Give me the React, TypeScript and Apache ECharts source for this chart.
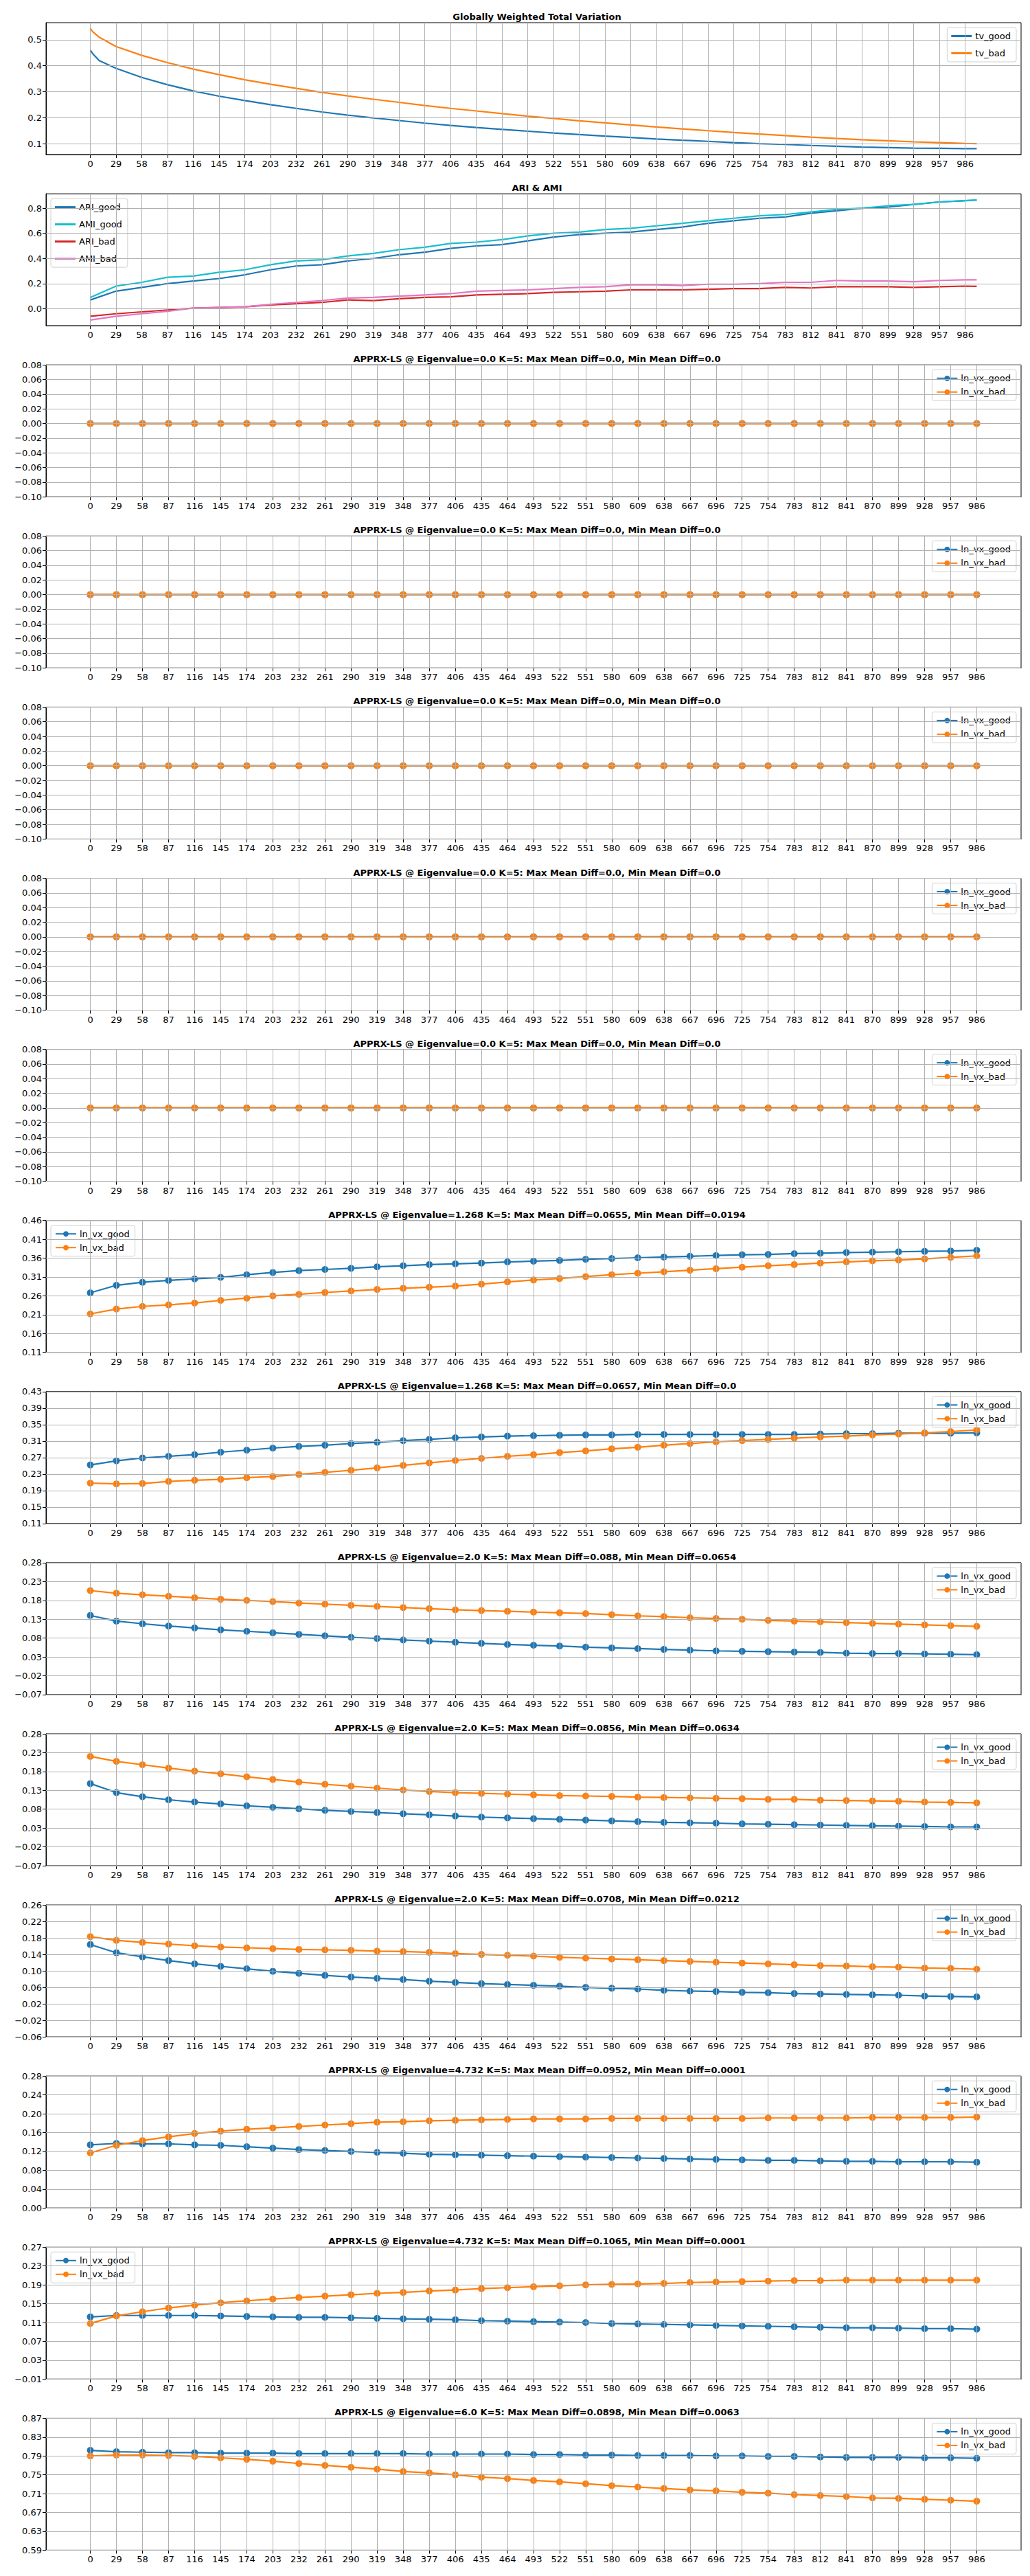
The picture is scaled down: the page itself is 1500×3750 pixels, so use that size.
import React, { useEffect, useRef } from "react";
import * as echarts from "echarts";

// x tick labels shared by every panel
const xTicks = [0, 29, 58, 87, 116, 145, 174, 203, 232, 261, 290, 319, 348, 377, 406, 435, 464, 493, 522, 551, 580, 609, 638, 667, 696, 725, 754, 783, 812, 841, 870, 899, 928, 957, 986];

// Globally Weighted Total Variation (sampled along the curve)
const tvX = [0, 3, 10, 29, 58, 87, 116, 145, 174, 203, 232, 261, 290, 319, 348, 377, 406, 435, 464, 493, 522, 551, 580, 609, 638, 667, 696, 725, 754, 783, 812, 841, 870, 899, 928, 957, 986, 999];
const tvGood = [0.46, 0.445, 0.42, 0.39, 0.355, 0.327, 0.303, 0.283, 0.266, 0.25, 0.236, 0.222, 0.21, 0.199, 0.189, 0.179, 0.17, 0.162, 0.155, 0.148, 0.141, 0.135, 0.129, 0.124, 0.118, 0.113, 0.109, 0.104, 0.1, 0.097, 0.093, 0.09, 0.087, 0.085, 0.083, 0.082, 0.081, 0.081];
const tvBad = [0.543, 0.53, 0.51, 0.474, 0.44, 0.412, 0.387, 0.366, 0.346, 0.329, 0.313, 0.298, 0.284, 0.271, 0.259, 0.247, 0.236, 0.226, 0.216, 0.206, 0.197, 0.188, 0.18, 0.172, 0.164, 0.157, 0.15, 0.143, 0.137, 0.131, 0.125, 0.12, 0.115, 0.111, 0.107, 0.104, 0.101, 0.1];

// ARI & AMI
const ariX = [0, 29, 58, 87, 116, 145, 174, 203, 232, 261, 290, 319, 348, 377, 406, 435, 464, 493, 522, 551, 580, 609, 638, 667, 696, 725, 754, 783, 812, 841, 870, 899, 928, 957, 986, 999];
const ariGood = [0.07, 0.14, 0.17, 0.2, 0.22, 0.24, 0.27, 0.31, 0.34, 0.35, 0.38, 0.4, 0.43, 0.45, 0.48, 0.5, 0.51, 0.54, 0.57, 0.59, 0.6, 0.61, 0.63, 0.65, 0.68, 0.7, 0.72, 0.73, 0.76, 0.78, 0.8, 0.81, 0.83, 0.85, 0.86, 0.865];
const amiGood = [0.09, 0.18, 0.21, 0.25, 0.26, 0.29, 0.31, 0.35, 0.38, 0.39, 0.42, 0.44, 0.47, 0.49, 0.52, 0.53, 0.55, 0.58, 0.6, 0.61, 0.63, 0.64, 0.66, 0.68, 0.7, 0.72, 0.74, 0.75, 0.77, 0.79, 0.8, 0.82, 0.83, 0.85, 0.86, 0.865];
const ariBad = [-0.06, -0.04, -0.025, -0.01, 0.005, 0.01, 0.015, 0.03, 0.04, 0.05, 0.07, 0.065, 0.08, 0.09, 0.095, 0.11, 0.115, 0.12, 0.13, 0.135, 0.14, 0.15, 0.15, 0.15, 0.155, 0.16, 0.16, 0.17, 0.165, 0.175, 0.175, 0.175, 0.17, 0.175, 0.18, 0.178];
const amiBad = [-0.09, -0.06, -0.04, -0.02, 0.005, 0.01, 0.015, 0.035, 0.05, 0.065, 0.085, 0.09, 0.1, 0.11, 0.12, 0.14, 0.145, 0.15, 0.16, 0.17, 0.175, 0.19, 0.19, 0.185, 0.195, 0.195, 0.2, 0.21, 0.21, 0.225, 0.22, 0.22, 0.215, 0.225, 0.23, 0.23];

// APPRX-LS panels
const zeros = [0, 0, 0, 0, 0, 0, 0, 0, 0, 0, 0, 0, 0, 0, 0, 0, 0, 0, 0, 0, 0, 0, 0, 0, 0, 0, 0, 0, 0, 0, 0, 0, 0, 0, 0];
const e1268aGood = [0.268, 0.288, 0.296, 0.301, 0.305, 0.309, 0.316, 0.322, 0.327, 0.33, 0.333, 0.337, 0.34, 0.343, 0.345, 0.347, 0.35, 0.352, 0.354, 0.357, 0.359, 0.361, 0.363, 0.365, 0.367, 0.369, 0.37, 0.372, 0.373, 0.375, 0.376, 0.377, 0.378, 0.379, 0.381];
const e1268aBad = [0.212, 0.225, 0.232, 0.236, 0.241, 0.248, 0.254, 0.26, 0.264, 0.269, 0.273, 0.277, 0.28, 0.283, 0.286, 0.291, 0.297, 0.302, 0.306, 0.311, 0.316, 0.32, 0.324, 0.328, 0.332, 0.336, 0.34, 0.343, 0.347, 0.35, 0.353, 0.355, 0.358, 0.362, 0.366];
const e1268bGood = [0.252, 0.262, 0.269, 0.273, 0.277, 0.283, 0.288, 0.293, 0.297, 0.3, 0.304, 0.307, 0.311, 0.314, 0.318, 0.32, 0.322, 0.323, 0.324, 0.325, 0.325, 0.326, 0.326, 0.326, 0.326, 0.326, 0.326, 0.326, 0.327, 0.328, 0.328, 0.329, 0.329, 0.329, 0.33];
const e1268bBad = [0.208, 0.206, 0.207, 0.212, 0.215, 0.217, 0.221, 0.224, 0.229, 0.234, 0.239, 0.245, 0.251, 0.257, 0.263, 0.268, 0.273, 0.277, 0.282, 0.286, 0.291, 0.295, 0.3, 0.304, 0.308, 0.311, 0.314, 0.317, 0.32, 0.322, 0.325, 0.327, 0.33, 0.333, 0.337];
const e2aGood = [0.14, 0.125, 0.118, 0.112, 0.107, 0.102, 0.098, 0.094, 0.09, 0.086, 0.082, 0.079, 0.075, 0.072, 0.069, 0.066, 0.063, 0.061, 0.059, 0.056, 0.054, 0.052, 0.05, 0.048, 0.046, 0.045, 0.044, 0.043, 0.042, 0.04, 0.039, 0.039, 0.038, 0.037, 0.036];
const e2aBad = [0.206, 0.199, 0.195, 0.191, 0.187, 0.183, 0.18, 0.177, 0.173, 0.17, 0.167, 0.164, 0.161, 0.158, 0.155, 0.153, 0.151, 0.149, 0.147, 0.145, 0.142, 0.139, 0.137, 0.134, 0.132, 0.13, 0.127, 0.125, 0.123, 0.121, 0.119, 0.117, 0.115, 0.113, 0.111];
const e2bGood = [0.148, 0.124, 0.113, 0.105, 0.099, 0.094, 0.089, 0.085, 0.081, 0.077, 0.074, 0.071, 0.068, 0.065, 0.062, 0.059, 0.057, 0.055, 0.053, 0.051, 0.049, 0.047, 0.045, 0.044, 0.043, 0.041, 0.04, 0.039, 0.038, 0.037, 0.036, 0.035, 0.034, 0.033, 0.033];
const e2bBad = [0.22, 0.207, 0.198, 0.189, 0.181, 0.174, 0.166, 0.159, 0.152, 0.146, 0.141, 0.136, 0.131, 0.127, 0.124, 0.122, 0.12, 0.118, 0.116, 0.115, 0.114, 0.112, 0.111, 0.11, 0.109, 0.108, 0.106, 0.106, 0.104, 0.103, 0.102, 0.101, 0.099, 0.098, 0.097];
const e2cGood = [0.164, 0.144, 0.134, 0.125, 0.117, 0.111, 0.105, 0.099, 0.094, 0.089, 0.085, 0.082, 0.079, 0.075, 0.072, 0.069, 0.067, 0.065, 0.063, 0.06, 0.058, 0.056, 0.053, 0.051, 0.05, 0.048, 0.047, 0.045, 0.044, 0.043, 0.042, 0.041, 0.039, 0.038, 0.037];
const e2cBad = [0.183, 0.174, 0.169, 0.165, 0.161, 0.158, 0.156, 0.154, 0.152, 0.151, 0.15, 0.148, 0.147, 0.145, 0.142, 0.14, 0.138, 0.136, 0.133, 0.131, 0.129, 0.127, 0.125, 0.123, 0.121, 0.119, 0.117, 0.115, 0.113, 0.112, 0.11, 0.109, 0.107, 0.106, 0.104];
const e4732aGood = [0.134, 0.137, 0.136, 0.136, 0.134, 0.133, 0.13, 0.127, 0.124, 0.122, 0.12, 0.118, 0.116, 0.114, 0.113, 0.112, 0.111, 0.11, 0.109, 0.108, 0.107, 0.106, 0.105, 0.104, 0.103, 0.102, 0.101, 0.101, 0.1, 0.099, 0.099, 0.098, 0.098, 0.098, 0.097];
const e4732aBad = [0.117, 0.133, 0.143, 0.151, 0.158, 0.163, 0.167, 0.17, 0.173, 0.176, 0.179, 0.182, 0.183, 0.185, 0.186, 0.187, 0.188, 0.189, 0.189, 0.189, 0.19, 0.19, 0.19, 0.19, 0.19, 0.19, 0.191, 0.191, 0.191, 0.191, 0.192, 0.192, 0.192, 0.192, 0.193];
const e4732bGood = [0.122, 0.125, 0.125, 0.125, 0.125, 0.124, 0.123, 0.122, 0.121, 0.121, 0.12, 0.119, 0.118, 0.117, 0.116, 0.114, 0.113, 0.112, 0.111, 0.11, 0.108, 0.107, 0.106, 0.105, 0.104, 0.103, 0.102, 0.101, 0.1, 0.099, 0.099, 0.098, 0.097, 0.097, 0.096];
const e4732bBad = [0.108, 0.124, 0.133, 0.141, 0.147, 0.152, 0.156, 0.16, 0.163, 0.166, 0.169, 0.172, 0.174, 0.177, 0.179, 0.182, 0.184, 0.186, 0.188, 0.19, 0.191, 0.192, 0.193, 0.195, 0.196, 0.197, 0.198, 0.199, 0.199, 0.2, 0.2, 0.2, 0.2, 0.2, 0.2];
const e6Good = [0.802, 0.799, 0.798, 0.797, 0.797, 0.796, 0.796, 0.796, 0.795, 0.795, 0.795, 0.795, 0.795, 0.794, 0.794, 0.794, 0.794, 0.793, 0.793, 0.792, 0.792, 0.791, 0.791, 0.791, 0.79, 0.79, 0.789, 0.789, 0.788, 0.787, 0.787, 0.787, 0.786, 0.786, 0.785];
const e6Bad = [0.79, 0.792, 0.792, 0.791, 0.789, 0.786, 0.783, 0.779, 0.774, 0.77, 0.766, 0.762, 0.757, 0.754, 0.75, 0.745, 0.742, 0.738, 0.735, 0.731, 0.727, 0.724, 0.721, 0.718, 0.716, 0.713, 0.711, 0.708, 0.706, 0.704, 0.701, 0.7, 0.698, 0.696, 0.694];

// y tick labels
const yTv = [0.1, 0.2, 0.3, 0.4, 0.5];
const yAri = [0.0, 0.2, 0.4, 0.6, 0.8];
const yZero = [-0.1, -0.08, -0.06, -0.04, -0.02, 0, 0.02, 0.04, 0.06, 0.08];
const y1268a = [0.11, 0.16, 0.21, 0.26, 0.31, 0.36, 0.41, 0.46];
const y1268b = [0.11, 0.15, 0.19, 0.23, 0.27, 0.31, 0.35, 0.39, 0.43];
const y2ab = [-0.07, -0.02, 0.03, 0.08, 0.13, 0.18, 0.23, 0.28];
const y2c = [-0.06, -0.02, 0.02, 0.06, 0.1, 0.14, 0.18, 0.22, 0.26];
const y4732a = [0, 0.04, 0.08, 0.12, 0.16, 0.2, 0.24, 0.28];
const y4732b = [-0.01, 0.03, 0.07, 0.11, 0.15, 0.19, 0.23, 0.27];
const y6 = [0.59, 0.63, 0.67, 0.71, 0.75, 0.79, 0.83, 0.87];

const BLUE = "#1f77b4";
const ORANGE = "#ff7f0e";
const zeroTitle = "APPRX-LS @ Eigenvalue=0.0 K=5: Max Mean Diff=0.0, Min Mean Diff=0.0";

type Line = { name: string; color: string; x: number[]; y: number[]; marker: boolean };
type Panel = { title: string; lines: Line[]; yTicks: number[]; yMin: number; yMax: number; dec: number; legendLeft: boolean; xMin: number; xMax: number };

const lnPanel = (title: string, good: number[], bad: number[], yTicks: number[], legendLeft = false): Panel => ({
  title,
  lines: [
    { name: "ln_vx_good", color: BLUE, x: xTicks, y: good, marker: true },
    { name: "ln_vx_bad", color: ORANGE, x: xTicks, y: bad, marker: true },
  ],
  yTicks,
  yMin: yTicks[0],
  yMax: yTicks[yTicks.length - 1],
  dec: 2,
  legendLeft,
  xMin: -49.3,
  xMax: 1035.3,
});

const panels: Panel[] = [
  {
    title: "Globally Weighted Total Variation",
    lines: [
      { name: "tv_good", color: BLUE, x: tvX, y: tvGood, marker: false },
      { name: "tv_bad", color: ORANGE, x: tvX, y: tvBad, marker: false },
    ],
    yTicks: yTv, yMin: 0.058, yMax: 0.566, dec: 1, legendLeft: false, xMin: -50, xMax: 1049,
  },
  {
    title: "ARI & AMI",
    lines: [
      { name: "ARI_good", color: BLUE, x: ariX, y: ariGood, marker: false },
      { name: "AMI_good", color: "#17becf", x: ariX, y: amiGood, marker: false },
      { name: "ARI_bad", color: "#d62728", x: ariX, y: ariBad, marker: false },
      { name: "AMI_bad", color: "#e377c2", x: ariX, y: amiBad, marker: false },
    ],
    yTicks: yAri, yMin: -0.135, yMax: 0.915, dec: 1, legendLeft: true, xMin: -50, xMax: 1049,
  },
  lnPanel(zeroTitle, zeros, zeros, yZero),
  lnPanel(zeroTitle, zeros, zeros, yZero),
  lnPanel(zeroTitle, zeros, zeros, yZero),
  lnPanel(zeroTitle, zeros, zeros, yZero),
  lnPanel(zeroTitle, zeros, zeros, yZero),
  lnPanel("APPRX-LS @ Eigenvalue=1.268 K=5: Max Mean Diff=0.0655, Min Mean Diff=0.0194", e1268aGood, e1268aBad, y1268a, true),
  lnPanel("APPRX-LS @ Eigenvalue=1.268 K=5: Max Mean Diff=0.0657, Min Mean Diff=0.0", e1268bGood, e1268bBad, y1268b),
  lnPanel("APPRX-LS @ Eigenvalue=2.0 K=5: Max Mean Diff=0.088, Min Mean Diff=0.0654", e2aGood, e2aBad, y2ab),
  lnPanel("APPRX-LS @ Eigenvalue=2.0 K=5: Max Mean Diff=0.0856, Min Mean Diff=0.0634", e2bGood, e2bBad, y2ab),
  lnPanel("APPRX-LS @ Eigenvalue=2.0 K=5: Max Mean Diff=0.0708, Min Mean Diff=0.0212", e2cGood, e2cBad, y2c),
  lnPanel("APPRX-LS @ Eigenvalue=4.732 K=5: Max Mean Diff=0.0952, Min Mean Diff=0.0001", e4732aGood, e4732aBad, y4732a),
  lnPanel("APPRX-LS @ Eigenvalue=4.732 K=5: Max Mean Diff=0.1065, Min Mean Diff=0.0001", e4732bGood, e4732bBad, y4732b, true),
  lnPanel("APPRX-LS @ Eigenvalue=6.0 K=5: Max Mean Diff=0.0898, Min Mean Diff=0.0063", e6Good, e6Bad, y6),
];

const FONT = "DejaVu Sans";
const TOP0 = 33;
const STEP = 249.1;
const H = 192;
const LEFT = 67;
const RIGHT = 13;
const GRID = "#b0b0b0";

const fmt = (dec: number) => (v: number) => (v < 0 ? "\u2212" : "") + Math.abs(v).toFixed(dec);

const App: React.FC = () => {
  const chartRef = useRef<HTMLDivElement>(null);

  useEffect(() => {
    document.body.style.margin = "0";
    if (!chartRef.current) return;
    const chart = echarts.init(chartRef.current, null, { renderer: "svg" });

    const grids: any[] = [];
    const xAxes: any[] = [];
    const yAxes: any[] = [];
    const series: any[] = [];
    const legends: any[] = [];
    const titles: any[] = [];

    panels.forEach((p, i) => {
      const top = TOP0 + i * STEP;
      const hasMarkers = p.lines[0].marker;
      grids.push({ left: LEFT, right: RIGHT, top, height: H, show: true, borderColor: "#000", borderWidth: 1, backgroundColor: "transparent" });
      titles.push({
        text: p.title, left: LEFT + (1500 - LEFT - RIGHT) / 2, top: top - 20, textAlign: "center",
        textStyle: { fontFamily: FONT, fontSize: 13, fontWeight: "bold", color: "#000" },
      });
      xAxes.push({
        type: "value", gridIndex: i, min: p.xMin, max: p.xMax,
        splitLine: { show: false },
        axisLine: { show: true, onZero: false, lineStyle: { color: "#000" } },
        axisTick: { show: true, customValues: xTicks, length: 5, lineStyle: { color: "#000" } },
        axisLabel: { customValues: xTicks, fontFamily: FONT, fontSize: 13, color: "#000", margin: 7 },
      });
      yAxes.push({
        type: "value", gridIndex: i, min: p.yMin, max: p.yMax,
        splitLine: { show: false },
        axisLine: { show: true, onZero: false, lineStyle: { color: "#000" } },
        axisTick: { show: true, customValues: p.yTicks, length: 5, lineStyle: { color: "#000" } },
        axisLabel: { customValues: p.yTicks, formatter: fmt(p.dec), fontFamily: FONT, fontSize: 13, color: "#000", margin: 6 },
      });
      // grid lines
      series.push({
        type: "line", xAxisIndex: i, yAxisIndex: i, data: [], silent: true, z: 1,
        markLine: {
          silent: true, symbol: "none", animation: false, label: { show: false },
          lineStyle: { color: GRID, width: 1, type: "solid" },
          data: [...xTicks.map((v) => ({ xAxis: v })), ...p.yTicks.map((v) => ({ yAxis: v }))],
        },
      });
      p.lines.forEach((l) => {
        series.push({
          type: "line", name: l.name, xAxisIndex: i, yAxisIndex: i, z: 3,
          data: l.x.map((x, k) => [x, l.y[k]]),
          color: l.color,
          lineStyle: { width: 2.2, color: l.color },
          showSymbol: l.marker, symbol: l.marker ? "circle" : "none", symbolSize: 10,
          itemStyle: { color: l.color },
        });
      });
      const legend: any = {
        data: p.lines.map((l) => (hasMarkers ? l.name : { name: l.name, icon: "rect" })),
        orient: "vertical", top: top + 7,
        itemWidth: 30, itemHeight: hasMarkers ? 10 : 3, itemGap: hasMarkers ? 7 : 12, padding: [6, 8, 6, 6],
        borderColor: "#d0d0d0", borderWidth: 1, borderRadius: 3, backgroundColor: "rgba(255,255,255,0.85)",
        textStyle: { fontFamily: FONT, fontSize: 13, color: "#000" }, selectedMode: false,
      };
      if (p.legendLeft) legend.left = LEFT + 7; else legend.right = RIGHT + 7;
      legends.push(legend);
    });

    chart.setOption({
      animation: false,
      backgroundColor: "#fff",
      title: titles,
      grid: grids,
      xAxis: xAxes,
      yAxis: yAxes,
      legend: legends,
      series,
    });
    return () => chart.dispose();
  }, []);

  return <div ref={chartRef} style={{ width: 1500, height: 3750 }} />;
};

export default App;
